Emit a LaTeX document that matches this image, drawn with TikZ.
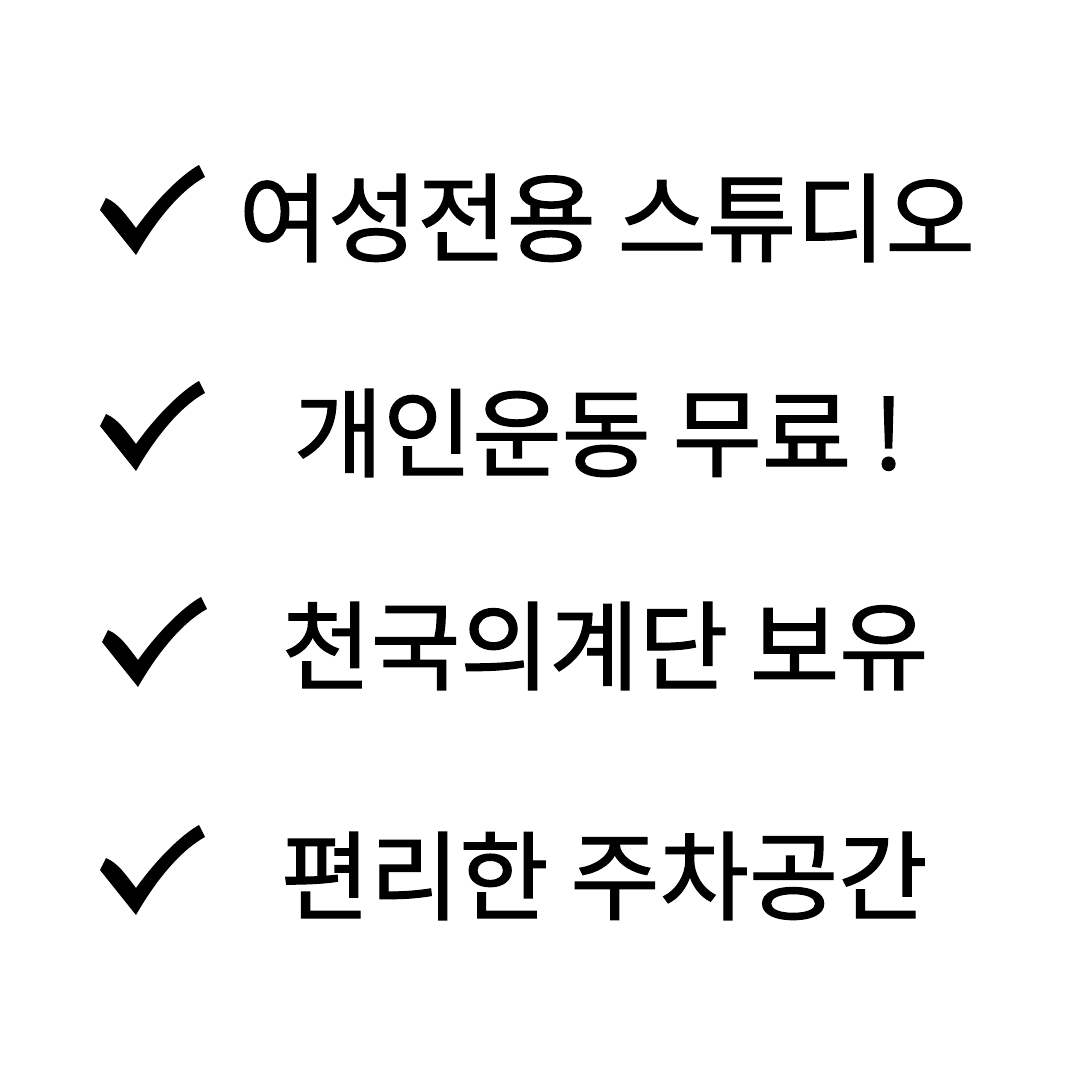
\documentclass[tikz,border=0pt]{standalone}
\usepackage{fontspec}
\newfontfamily\kr[FakeBold=1.3]{Noto Sans CJK KR}
\begin{document}
\begin{tikzpicture}[x=0.01cm,y=-0.01cm,
  txt/.style={font=\kr\fontsize{27.6}{32}\selectfont, anchor=west, inner sep=0pt},
  chk/.pic={\fill[black] (0,0) -- (-36,-45) -- (-30,-57) .. controls (-18,-52) and (-10,-40) .. (0,-27) .. controls (20,-55) and (45,-80) .. (63,-90) -- (69,-78) .. controls (45,-65) and (20,-35) .. (0,0) -- cycle;}]
\fill[white] (0,0) rectangle (1080,1080);
\pic at (136,255) {chk};
\pic at (136,471) {chk};
\pic at (138,687) {chk};
\pic at (136,915) {chk};
\node[txt] (t1) at (238,218) {여성전용 스튜디오};
\node[txt] (t2) at (293,433) {개인운동 무료 !};
\node[txt] (t3) at (281,646) {천국의계단 보유};
\node[txt] (t4) at (280,876) {편리한 주차공간};
\end{tikzpicture}
\end{document}
